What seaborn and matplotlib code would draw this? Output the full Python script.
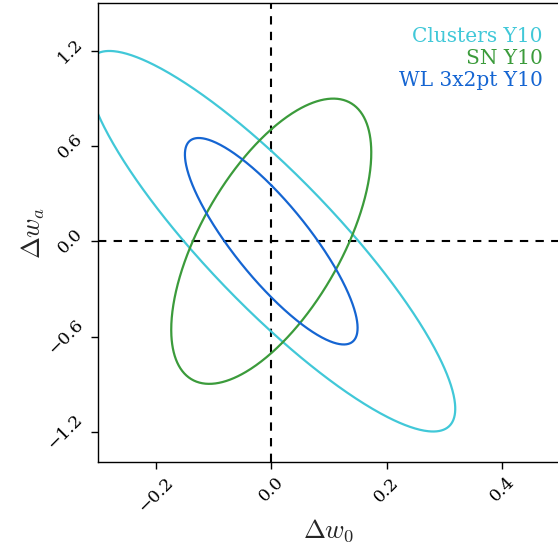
import numpy as np
import pandas as pd
import matplotlib
matplotlib.use("Agg")
import matplotlib.pyplot as plt
import seaborn as sns

# Forecast ellipses (centered at fiducial), semi-extents and correlation
probes = ["Clusters Y10", "SN Y10", "WL 3x2pt Y10"]
sigma_w0 = [0.3186, 0.1732, 0.1495]
sigma_wa = [1.198, 0.898, 0.650]
rho = [-0.88, 0.62, -0.84]
colors = ["#41c8d8", "#3b9b3b", "#1565d2"]

xticks = [-0.2, 0.0, 0.2, 0.4]
yticks = [-1.2, -0.6, 0.0, 0.6, 1.2]

sns.set_style("ticks")
plt.rcParams["font.family"] = ["DejaVu Serif"]
plt.rcParams["mathtext.fontset"] = "cm"

t = np.linspace(0.5 * np.pi, 2.5 * np.pi, 600)
rows = []
for name, sx, sy, r in zip(probes, sigma_w0, sigma_wa, rho):
    cov = np.array([[sx * sx, r * sx * sy], [r * sx * sy, sy * sy]])
    L = np.linalg.cholesky(cov)
    pts = L @ np.vstack([np.cos(t), np.sin(t)])
    for i in range(len(t)):
        rows.append({"probe": name, "i": i, "w0": pts[0, i], "wa": pts[1, i]})
df = pd.DataFrame(rows)

fig = plt.figure(figsize=(5.58, 5.48), dpi=100)
ax = fig.add_axes([98 / 558, 1 - 462 / 548, 462 / 558, 459 / 548])

ax.axhline(0, color="black", ls="--", lw=1.5, dashes=(4, 3.5))
ax.axvline(0, color="black", ls="--", lw=1.5, dashes=(4, 3.5))

sns.lineplot(data=df, x="w0", y="wa", hue="probe", units="probe", estimator=None,
             sort=False, palette=dict(zip(probes, colors)), lw=1.6, ax=ax, legend=False,
             solid_capstyle="round", solid_joinstyle="round")

def fmt(v):
    s = f"{v:.1f}"
    return s.replace("-", "\u2212")

ax.set_xlim(-0.3, 0.5)
ax.set_ylim(-1.39, 1.5)
ax.set_xticks(xticks)
ax.set_yticks(yticks)
ax.set_xticklabels([fmt(v) for v in xticks], rotation=45)
ax.set_yticklabels([fmt(v) for v in yticks], rotation=45, va="center")
ax.tick_params(labelsize=12.5, length=5, width=1, colors="black")
for s in ax.spines.values():
    s.set_color("black")
    s.set_linewidth(1.0)

ax.set_xlabel(r"$\Delta w_0$", fontsize=19, labelpad=1)
ax.set_ylabel(r"$\Delta w_a$", fontsize=19, labelpad=-2)

ys = [0.926, 0.880, 0.832]
for name, c, y in zip(probes, colors, ys):
    ax.text(0.963, y, name, color=c, ha="right", va="center", fontsize=14.5,
            transform=ax.transAxes)

fig.savefig("out.png", dpi=100)
